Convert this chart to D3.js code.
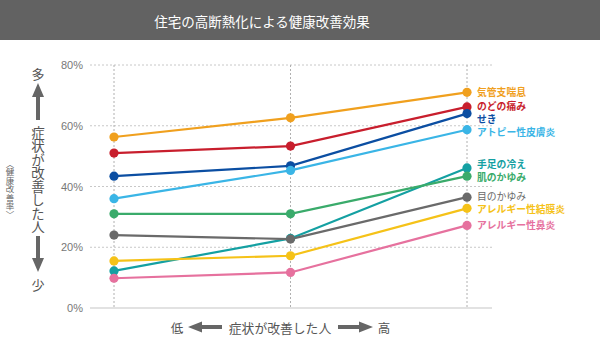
<!DOCTYPE html>
<html><head><meta charset="utf-8">
<script src="https://cdn.jsdelivr.net/npm/d3@7"></script>
<style>body{margin:0;background:#fff}svg{display:block;font-family:"Noto Sans CJK JP","Noto Sans",sans-serif}</style>
</head><body><svg id="c" width="600" height="350"></svg>
<script>
const stages = ["低", "中", "高"];
const seriesNames = ["気管支喘息","のどの痛み","せき","アトピー性皮膚炎","手足の冷え","肌のかゆみ","目のかゆみ","アレルギー性結膜炎","アレルギー性鼻炎"];
const seriesColors = ["#f0a01e","#c81e2d","#0b4ea2","#3ab5e6","#14a0a2","#3aab6b","#6a6a6a","#f5c218","#e6719e"];
const v気管支喘息 = [56.3, 62.6, 71.0];
const vのどの痛み = [51.0, 53.3, 66.2];
const vせき = [43.4, 46.8, 64.0];
const vアトピー = [36.0, 45.3, 58.7];
const v手足 = [12.2, 22.9, 46.1];
const v肌 = [31.0, 31.0, 43.4];
const v目 = [24.0, 22.7, 36.5];
const v結膜炎 = [15.5, 17.2, 32.8];
const v鼻炎 = [9.8, 11.7, 27.2];
const seriesValues = [v気管支喘息, vのどの痛み, vせき, vアトピー, v手足, v肌, v目, v結膜炎, v鼻炎];
const labelY = [92, 106, 119, 132, 164, 177, 196, 209, 225];
const yTicks = [0, 20, 40, 60, 80];

const svg = d3.select("#c");
svg.append("rect").attr("x",0).attr("y",0).attr("width",600).attr("height",40).attr("fill","#626262");
svg.append("text").attr("x",262).attr("y",21).attr("text-anchor","middle").attr("dominant-baseline","central")
  .attr("fill","#fff").attr("font-size",13.5).text("住宅の高断熱化による健康改善効果");

const x = d3.scalePoint().domain(stages).range([114, 467]);
const y = d3.scaleLinear().domain([0, 80]).range([308, 65]);

// horizontal grid
const g = svg.append("g");
yTicks.forEach(t => {
  g.append("line").attr("x1", 90).attr("x2", 492).attr("y1", y(t)).attr("y2", y(t))
    .attr("stroke", t === 0 ? "#d8d8d8" : "#c8c8c8").attr("stroke-width", t===0?1.5:1)
    .attr("stroke-dasharray", t === 0 ? null : "2,2");
});
stages.forEach(s => {
  g.append("line").attr("x1", x(s)).attr("x2", x(s)).attr("y1", y(80)).attr("y2", y(0))
    .attr("stroke", "#b0b0b0").attr("stroke-dasharray", "2,2");
});
const yAxis = d3.axisLeft(y).tickValues(yTicks).tickFormat(d => d + "%").tickSize(0).tickPadding(0);
const ya = svg.append("g").attr("transform","translate(83,0)").call(yAxis);
ya.select(".domain").remove();
ya.selectAll("text").attr("fill","#777").attr("font-size",11).attr("font-family","Arial, Liberation Sans, sans-serif");

// lines
const line = d3.line().x((d,i) => x(stages[i])).y(d => y(d));
seriesValues.forEach((vals, k) => {
  svg.append("path").attr("d", line(vals)).attr("fill","none").attr("stroke", seriesColors[k]).attr("stroke-width", 2.2);
});
seriesValues.forEach((vals, k) => {
  svg.selectAll(null).data(vals).enter().append("circle")
    .attr("cx", (d,i) => x(stages[i])).attr("cy", d => y(d)).attr("r", 4.6).attr("fill", seriesColors[k]);
  svg.append("text").attr("x", 477).attr("y", labelY[k]).attr("dominant-baseline","central")
    .attr("fill", seriesColors[k]).attr("font-size", 9.8).attr("font-weight", k===6 ? "normal" : "bold")
    .text(seriesNames[k]);
});

// left annotation
const ac = "#666";
svg.append("text").attr("x",38).attr("y",73).attr("text-anchor","middle").attr("dominant-baseline","central")
  .attr("fill","#555").attr("font-size",13).text("多");
svg.append("path").attr("d","M38,83 L44,97 L40,97 L40,120 L36,120 L36,97 L32,97 Z").attr("fill",ac);
svg.append("text").attr("x",38).attr("y",180).attr("text-anchor","middle").attr("fill","#555")
  .attr("font-size",13.5).style("writing-mode","vertical-rl").style("text-orientation","upright")
  .attr("dominant-baseline","central").text("症状が改善した人");
svg.append("path").attr("d","M38,272 L44,258 L40,258 L40,236 L36,236 L36,258 L32,258 Z").attr("fill",ac);
svg.append("text").attr("x",38).attr("y",284).attr("text-anchor","middle").attr("dominant-baseline","central")
  .attr("fill","#555").attr("font-size",13).text("少");
svg.append("text").attr("x",10).attr("y",189).attr("text-anchor","middle").attr("fill","#666")
  .attr("font-size",8.5).style("writing-mode","vertical-rl").style("text-orientation","upright")
  .attr("dominant-baseline","central").text("〈健康改善率〉");

// bottom annotation
svg.append("text").attr("x",177).attr("y",327).attr("text-anchor","middle").attr("dominant-baseline","central")
  .attr("fill","#555").attr("font-size",12.5).text("低");
svg.append("path").attr("d","M188,327 L202,321.5 L202,325 L222,325 L222,329 L202,329 L202,332.5 Z").attr("fill",ac);
svg.append("text").attr("x",280).attr("y",327).attr("text-anchor","middle").attr("dominant-baseline","central")
  .attr("fill","#555").attr("font-size",12.8).text("症状が改善した人");
svg.append("path").attr("d","M373,327 L359,321.5 L359,325 L338,325 L338,329 L359,329 L359,332.5 Z").attr("fill",ac);
svg.append("text").attr("x",384).attr("y",327).attr("text-anchor","middle").attr("dominant-baseline","central")
  .attr("fill","#555").attr("font-size",12.5).text("高");
</script></body></html>
